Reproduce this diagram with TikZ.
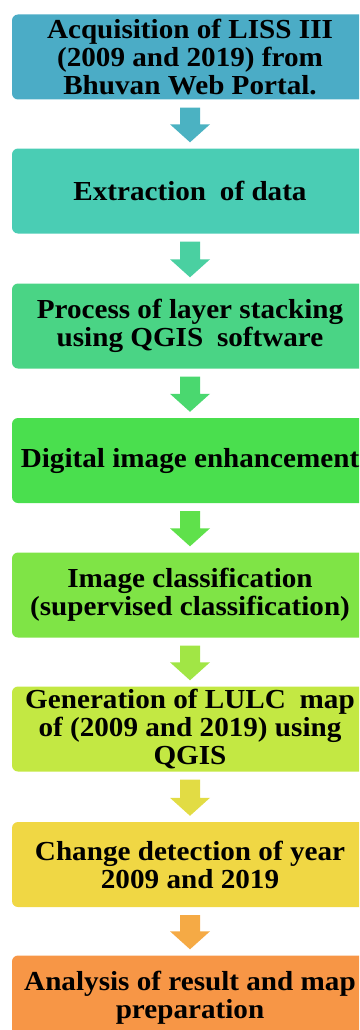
\documentclass[tikz,border=0pt]{standalone}
\usepackage{fontspec}
\setmainfont{Liberation Serif}[FakeStretch=1.06]
\usetikzlibrary{calc}
\definecolor{cA}{HTML}{4BACC6}
\definecolor{cB}{HTML}{4ACDB4}
\definecolor{cC}{HTML}{4AD485}
\definecolor{cD}{HTML}{4ADF4E}
\definecolor{cE}{HTML}{7FE446}
\definecolor{cF}{HTML}{C3E843}
\definecolor{cG}{HTML}{F0D744}
\definecolor{cH}{HTML}{F79646}
\tikzset{
  stepbox/.style={rounded corners=6pt, minimum width=356pt, minimum height=85pt,
    align=center, inner sep=0pt, text=black,
    font=\fontsize{27.5}{28}\selectfont\bfseries},
}
\newcommand{\blockarrow}[3]{%
  \fill[#3] ($(#1.south)+(-10pt,-8pt)$) -- ($(#1.south)+(10pt,-8pt)$)
    -- ($(#2.north)+(10pt,24pt)$) -- ($(#2.north)+(20pt,24pt)$)
    -- ($(#2.north)+(0pt,6pt)$) -- ($(#2.north)+(-20pt,24pt)$)
    -- ($(#2.north)+(-10pt,24pt)$) -- cycle;}
\begin{document}
\begin{tikzpicture}[x=1pt,y=1pt]
\useasboundingbox (0,0) rectangle (359,-1030);
\clip (0,0) rectangle (359,-1030);
\node[stepbox, fill=cA] (b1) at (190,-57) {Acquisition of LISS III\\(2009 and 2019) from\\Bhuvan Web Portal.};
\node[stepbox, fill=cB] (b2) at (190,-191) {Extraction\enspace of data};
\node[stepbox, fill=cC] (b3) at (190,-326) {Process of layer stacking\\using QGIS\enspace software};
\node[stepbox, fill=cD] (b4) at (190,-460.5) {Digital image enhancement};
\node[stepbox, fill=cE] (b5) at (190,-595) {Image classification\\(supervised classification)};
\node[stepbox, fill=cF] (b6) at (190,-729) {Generation of LULC\enspace map\\of (2009 and 2019) using\\QGIS};
\node[stepbox, fill=cG] (b7) at (190,-864.5) {Change detection of year\\2009 and 2019};
\node[stepbox, fill=cH] (b8) at (190,-998) {Analysis of result and map\\preparation};
\blockarrow{b1}{b2}{cA!80!cB}
\blockarrow{b2}{b3}{cB!60!cC}
\blockarrow{b3}{b4}{cC!60!cD}
\blockarrow{b4}{b5}{cD!60!cE}
\blockarrow{b5}{b6}{cE!50!cF}
\blockarrow{b6}{b7}{cF!30!cG}
\blockarrow{b7}{b8}{cG!30!cH}
\end{tikzpicture}
\end{document}
